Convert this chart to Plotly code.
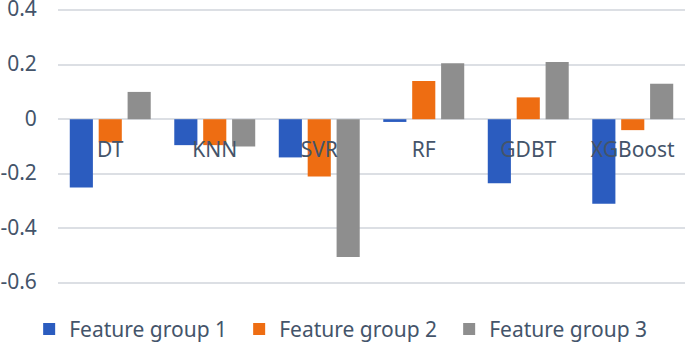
import plotly.graph_objects as go

categories = ["DT", "KNN", "SVR", "RF", "GDBT", "XGBoost"]
group1 = [-0.25, -0.095, -0.14, -0.01, -0.235, -0.31]
group2 = [-0.085, -0.095, -0.21, 0.14, 0.08, -0.04]
group3 = [0.10, -0.10, -0.505, 0.205, 0.21, 0.13]
series_names = ["Feature group 1", "Feature group 2", "Feature group 3"]
colors = ["#2b5cbf", "#ee6d12", "#8e8e8e"]
y_ticks = [0.4, 0.2, 0, -0.2, -0.4, -0.6]
y_tick_text = ["0.4", "0.2", "0", "-0.2", "-0.4", "-0.6"]

txt = "#44546a"
fs = 21
fig = go.Figure()
for name, vals, c in zip(series_names, [group1, group2, group3], colors):
    fig.add_trace(go.Bar(x=categories, y=vals, name=name, marker=dict(color=c, line=dict(width=0))))

fig.update_layout(
    width=685, height=342,
    margin=dict(l=58, r=0, t=8, b=57, autoexpand=False),
    paper_bgcolor="white", plot_bgcolor="white",
    barmode="group", bargap=0.17, bargroupgap=0.2,
    font=dict(family="Noto Sans", size=fs, color=txt),
    showlegend=True,
    legend=dict(orientation="h", x=-0.046, y=-0.16, xanchor="left", yanchor="middle",
                entrywidth=165, entrywidthmode="pixels", font=dict(size=fs, color=txt),
                itemsizing="constant"),
    xaxis=dict(anchor="free", position=0.6, showgrid=False, showline=False, zeroline=False,
               ticks="outside", ticklen=12, tickcolor="rgba(0,0,0,0)", tickfont=dict(size=fs, color=txt)),
    yaxis=dict(range=[-0.6075, 0.4075], tickvals=y_ticks, ticktext=y_tick_text, showgrid=True,
               gridcolor="#dcdfe4", gridwidth=1.5, zeroline=True, zerolinecolor="#dcdfe4", zerolinewidth=1.5,
               showline=False, ticks="outside", ticklen=16, tickcolor="rgba(0,0,0,0)",
               ticklabeloverflow="allow", ticklabelshift=-1, tickfont=dict(size=fs, color=txt)),
)
fig.write_html("out.html", config={"displayModeBar": False},
               post_script="document.body.style.margin='0';document.body.style.padding='0';document.body.style.overflow='hidden';")
